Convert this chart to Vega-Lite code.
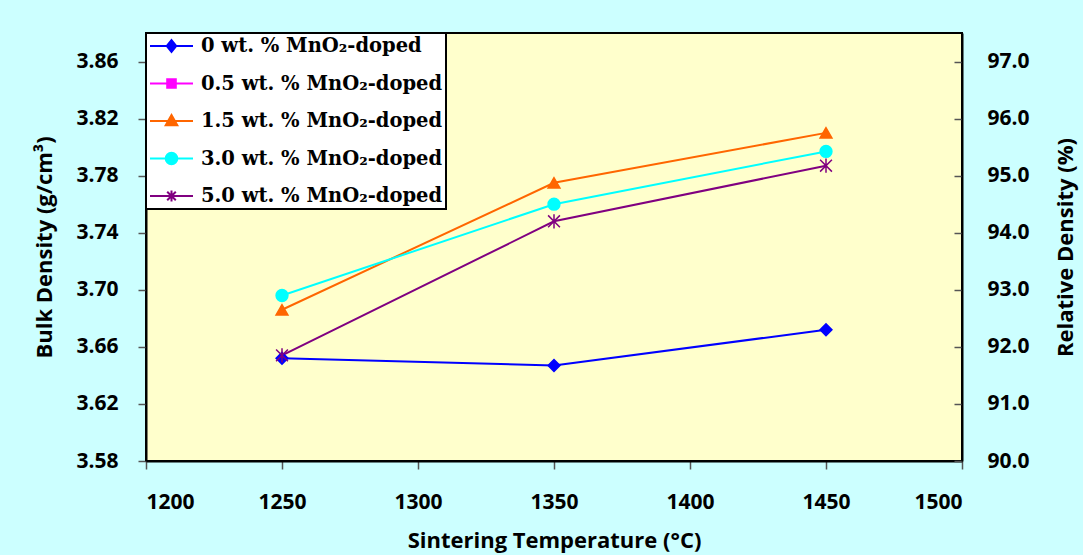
{
  "$schema": "https://vega.github.io/schema/vega-lite/v6.json",
  "width": 816,
  "height": 428,
  "autosize": {"type": "none"},
  "padding": {"left": 146, "top": 33, "right": 121, "bottom": 94},
  "background": "#CCFFFF",
  "config": {
    "view": {"fill": "#FFFFCC", "stroke": "black", "strokeWidth": 2},
    "axis": {
      "grid": false,
      "labelFont": "Open Sans",
      "labelFontWeight": "bold",
      "labelFontSize": 21,
      "titleFont": "Open Sans",
      "titleFontWeight": "bold",
      "titleFontSize": 22,
      "labelColor": "black",
      "titleColor": "black",
      "tickColor": "#555555",
      "tickWidth": 1.5,
      "domainColor": "black",
      "domainWidth": 2
    },
    "legend": {
      "labelFont": "DejaVu Serif",
      "labelFontWeight": "bold",
      "labelFontSize": 19.5,
      "labelColor": "black",
      "labelLimit": 400,
      "labelOffset": 7,
      "fillColor": "white",
      "strokeColor": "black",
      "padding": 3,
      "rowPadding": 17.5,
      "clipHeight": 20,
      "symbolSize": 1849,
      "symbolStrokeWidth": 2,
      "symbolOpacity": 1
    }
  },
  "data": {
    "values": [
      {"series": "0 wt. % MnO₂-doped", "doping": "0", "temp": 1250, "bulk": 3.652, "rel": 91.81},
      {"series": "0 wt. % MnO₂-doped", "doping": "0", "temp": 1350, "bulk": 3.647, "rel": 91.68},
      {"series": "0 wt. % MnO₂-doped", "doping": "0", "temp": 1450, "bulk": 3.672, "rel": 92.31},
      {"series": "1.5 wt. % MnO₂-doped", "doping": "1.5", "temp": 1250, "bulk": 3.686, "rel": 92.66},
      {"series": "1.5 wt. % MnO₂-doped", "doping": "1.5", "temp": 1350, "bulk": 3.775, "rel": 94.90},
      {"series": "1.5 wt. % MnO₂-doped", "doping": "1.5", "temp": 1450, "bulk": 3.810, "rel": 95.78},
      {"series": "3.0 wt. % MnO₂-doped", "doping": "3.0", "temp": 1250, "bulk": 3.696, "rel": 92.91},
      {"series": "3.0 wt. % MnO₂-doped", "doping": "3.0", "temp": 1350, "bulk": 3.760, "rel": 94.52},
      {"series": "3.0 wt. % MnO₂-doped", "doping": "3.0", "temp": 1450, "bulk": 3.797, "rel": 95.45},
      {"series": "5.0 wt. % MnO₂-doped", "doping": "5.0", "temp": 1250, "bulk": 3.654, "rel": 91.86},
      {"series": "5.0 wt. % MnO₂-doped", "doping": "5.0", "temp": 1350, "bulk": 3.748, "rel": 94.22},
      {"series": "5.0 wt. % MnO₂-doped", "doping": "5.0", "temp": 1450, "bulk": 3.787, "rel": 95.20}
    ]
  },
  "layer": [
    {
      "encoding": {
        "x": {
          "field": "temp",
          "type": "quantitative",
          "scale": {"domain": [1200, 1500], "nice": false, "zero": false},
          "axis": {
            "values": [1200, 1250, 1300, 1350, 1400, 1450, 1500],
            "title": "Sintering Temperature (°C)",
            "tickSize": 8,
            "labelPadding": 22,
            "titlePadding": 18,
            "format": "d"
          }
        },
        "y": {
          "field": "bulk",
          "type": "quantitative",
          "scale": {"domain": [3.58, 3.88], "nice": false, "zero": false},
          "axis": {
            "values": [3.58, 3.62, 3.66, 3.70, 3.74, 3.78, 3.82, 3.86],
            "format": ".2f",
            "title": "Bulk Density (g/cm³)",
            "tickSize": 8,
            "labelPadding": 20,
            "titlePadding": 19
          }
        },
        "color": {
          "field": "series",
          "type": "nominal",
          "scale": {
            "domain": ["0 wt. % MnO₂-doped", "0.5 wt. % MnO₂-doped", "1.5 wt. % MnO₂-doped", "3.0 wt. % MnO₂-doped", "5.0 wt. % MnO₂-doped"],
            "range": ["#0000FF", "#FF00FF", "#FF6600", "#00FFFF", "#800080"]
          },
          "legend": {
            "title": null,
            "orient": "top-left",
            "offset": 0,
            "encode": {
              "legend": {
                "update": {
                  "strokeWidth": {"value": 2}
                }
              },
              "symbols": {
                "update": {
                  "shape": {"signal": "['M-1,0H1M0,-0.27L0.22,0L0,0.27L-0.22,0Z', 'M-1,0H1M-0.2,-0.2H0.2V0.2H-0.2Z', 'M-1,0H1M0,-0.28L0.27,0.2H-0.27Z', 'M-1,0H1M-0.27,0A0.27,0.27 0 1,0 0.27,0A0.27,0.27 0 1,0 -0.27,0Z', 'M-1,0H1M-0.2,-0.2L0.2,0.2M-0.2,0.2L0.2,-0.2M0,-0.26V0.26'][datum.index]"},
                  "fill": {"scale": "color", "field": "value"},
                  "stroke": {"scale": "color", "field": "value"},
                  "strokeWidth": {"value": 2},
                  "opacity": {"value": 1},
                  "size": {"value": 1849}
                }
              }
            }
          }
        }
      },
      "layer": [
        {"mark": {"type": "line", "strokeWidth": 2}},
        {
          "mark": {"type": "point", "filled": true, "opacity": 1, "size": 140, "strokeWidth": 1.5},
          "encoding": {
            "shape": {
              "field": "doping",
              "type": "nominal",
              "scale": {
                "domain": ["0", "0.5", "1.5", "3.0", "5.0"],
                "range": ["diamond", "square", "triangle-up", "circle", "M-1,-1L1,1M-1,1L1,-1M0,-1.2L0,1.2"]
              },
              "legend": null
            },
            "stroke": {
              "field": "doping",
              "type": "nominal",
              "scale": {
                "domain": ["0", "0.5", "1.5", "3.0", "5.0"],
                "range": ["#0000FF", "#FF00FF", "#FF6600", "#00FFFF", "#800080"]
              },
              "legend": null
            }
          }
        }
      ]
    },
    {
      "mark": {"type": "point", "opacity": 0},
      "encoding": {
        "x": {"field": "temp", "type": "quantitative"},
        "y": {
          "field": "rel",
          "type": "quantitative",
          "scale": {"domain": [90, 97.5], "nice": false, "zero": false},
          "axis": {
            "orient": "right",
            "values": [90, 91, 92, 93, 94, 95, 96, 97],
            "format": ".1f",
            "title": "Relative Density (%)",
            "titleAngle": 270,
            "tickSize": -8,
            "labelPadding": 33,
            "titlePadding": 48
          }
        }
      }
    }
  ],
  "resolve": {"scale": {"y": "independent"}}
}
